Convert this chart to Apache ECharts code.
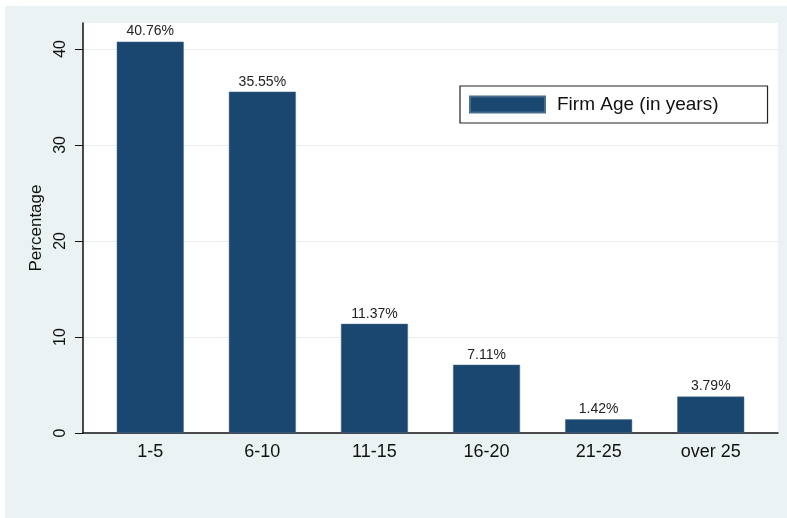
<!DOCTYPE html>
<html>
<head>
<meta charset="utf-8">
<script src="https://cdn.jsdelivr.net/npm/echarts@6/dist/echarts.min.js"></script>
<style>
  html, body { margin: 0; padding: 0; background: #fff; }
  #bg { position: absolute; left: 5px; top: 6px; width: 782px; height: 512px; background: #eaf2f3; }
  #chart { position: absolute; left: 0; top: 0; width: 787px; height: 518px; }
</style>
</head>
<body>
<div id="bg"></div>
<div id="chart"></div>
<script>
var categories = ['1-5', '6-10', '11-15', '16-20', '21-25', 'over 25'];
var percentages = [40.76, 35.55, 11.37, 7.11, 1.42, 3.79];
var yTicks = [0, 10, 20, 30, 40];

var chart = echarts.init(document.getElementById('chart'), null, { renderer: 'canvas' });

var option = {
  animation: false,
  textStyle: { fontFamily: 'Liberation Sans, Arial, sans-serif' },
  grid: {
    left: 83, right: 9, top: 23, bottom: 85,
    show: true, backgroundColor: '#ffffff', borderWidth: 0
  },
  legend: {
    left: 460, top: 86,
    data: ['Firm Age (in years)'],
    itemWidth: 75, itemHeight: 16,
    padding: [9, 49, 9, 9],
    backgroundColor: '#ffffff',
    borderColor: '#222', borderWidth: 1.2, borderRadius: 0,
    textStyle: { fontSize: 19, color: '#111', padding: [0, 0, 0, 7] },
    icon: 'rect'
  },
  xAxis: {
    type: 'value',
    min: -0.6, max: 5.6,
    splitLine: { show: false },
    axisLine: { show: true, lineStyle: { color: '#111', width: 1.5 } },
    axisTick: { show: false },
    axisLabel: {
      fontSize: 18, color: '#111', margin: 10,
      customValues: [0, 1, 2, 3, 4, 5],
      formatter: function (v) {
        var i = Math.round(v);
        return categories[i] || '';
      }
    }
  },
  yAxis: {
    type: 'value',
    min: 0, max: 42.7, interval: 10,
    name: 'Percentage',
    nameLocation: 'middle',
    nameGap: 37,
    nameTextStyle: { fontSize: 17, color: '#111' },
    axisLine: { show: true, onZero: false, lineStyle: { color: '#111', width: 1.5 } },
    axisTick: { show: true, length: 8, lineStyle: { color: '#111' }, customValues: yTicks },
    axisLabel: {
      rotate: 90, fontSize: 16, color: '#111', margin: 14,
      customValues: yTicks
    },
    splitLine: { show: true, lineStyle: { color: '#e6edf0', width: 1 } }
  },
  series: [{
    name: 'Firm Age (in years)',
    type: 'bar',
    barWidth: 67,
    data: percentages.map(function (v, i) { return [i, v]; }),
    itemStyle: { color: '#1a476f', borderColor: '#4a6e8e', borderWidth: 0.5 },
    label: {
      show: true, position: 'top', distance: 3,
      fontSize: 14, color: '#222',
      formatter: function (p) { return p.value[1].toFixed(2) + '%'; }
    }
  }]
};

chart.setOption(option);
</script>
</body>
</html>
